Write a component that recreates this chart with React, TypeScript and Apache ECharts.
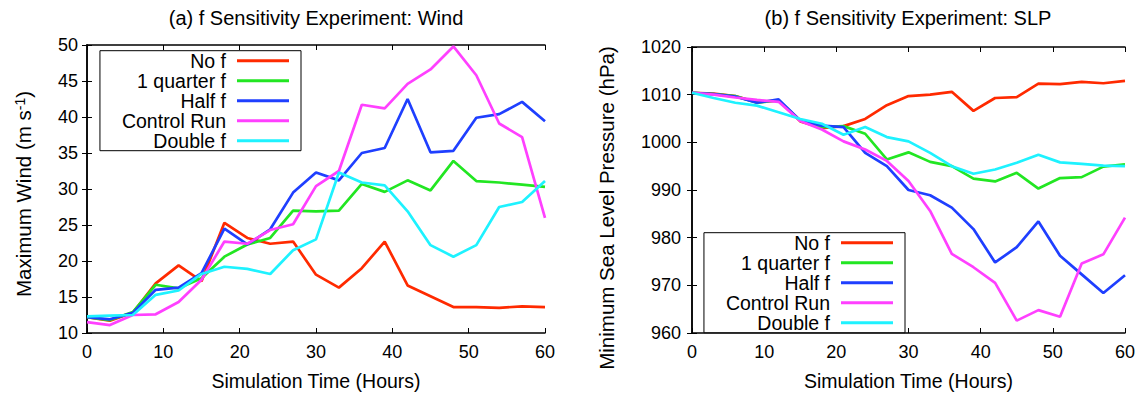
import React, { useEffect, useRef } from "react";
import * as echarts from "echarts";

const hours = [0, 3, 6, 9, 12, 15, 18, 21, 24, 27, 30, 33, 36, 39, 42, 45, 48, 51, 54, 57, 60];
const seriesNames = ["No f", "1 quarter f", "Half f", "Control Run", "Double f"];
const seriesColors = ["#ff2a00", "#22e622", "#1f3fff", "#ff40ff", "#1ef2ff"];

const noFWind = [12.2, 11.7, 12.8, 16.9, 19.4, 17.2, 25.3, 23.2, 22.4, 22.7, 18.1, 16.3, 19.0, 22.7, 16.6, 15.1, 13.6, 13.6, 13.5, 13.7, 13.6];
const quarterWind = [12.2, 11.8, 12.9, 16.7, 16.2, 17.6, 20.6, 22.3, 23.2, 27.0, 26.9, 27.0, 30.7, 29.6, 31.2, 29.8, 33.9, 31.1, 30.9, 30.6, 30.3];
const halfWind = [12.2, 11.9, 12.8, 16.0, 16.3, 18.3, 24.5, 22.3, 24.4, 29.5, 32.3, 31.2, 35.0, 35.7, 42.5, 35.1, 35.3, 39.9, 40.4, 42.1, 39.4];
const controlWind = [11.5, 11.1, 12.5, 12.6, 14.3, 17.4, 22.7, 22.4, 24.3, 25.1, 30.4, 32.5, 41.7, 41.2, 44.6, 46.6, 49.8, 45.8, 39.1, 37.2, 26.0];
const doubleWind = [12.3, 12.4, 12.5, 15.3, 15.9, 18.2, 19.2, 18.9, 18.2, 21.5, 23.0, 32.3, 30.9, 30.5, 26.9, 22.2, 20.6, 22.2, 27.5, 28.2, 31.1];

const noFSlp = [1010.4, 1010.2, 1009.7, 1008.4, 1008.8, 1004.4, 1003.0, 1003.4, 1004.9, 1007.8, 1009.7, 1010.0, 1010.6, 1006.6, 1009.3, 1009.5, 1012.3, 1012.2, 1012.7, 1012.4, 1012.9];
const quarterSlp = [1010.4, 1010.1, 1009.7, 1008.3, 1008.8, 1004.6, 1003.2, 1003.4, 1001.8, 996.4, 997.9, 995.9, 995.0, 992.4, 991.8, 993.6, 990.3, 992.5, 992.7, 994.9, 995.4];
const halfSlp = [1010.4, 1010.1, 1009.6, 1008.3, 1009.0, 1004.6, 1003.5, 1003.2, 997.8, 995.0, 990.0, 988.9, 986.3, 981.8, 974.8, 978.0, 983.4, 976.2, 972.3, 968.4, 972.1];
const controlSlp = [1010.4, 1010.0, 1009.4, 1008.9, 1008.5, 1004.5, 1002.7, 1000.2, 998.5, 996.1, 991.9, 985.6, 976.6, 973.8, 970.5, 962.6, 964.8, 963.4, 974.6, 976.5, 984.2];
const doubleSlp = [1010.4, 1009.3, 1008.3, 1007.7, 1006.3, 1004.9, 1003.9, 1001.6, 1003.2, 1001.1, 1000.2, 997.8, 995.0, 993.4, 994.3, 995.7, 997.4, 995.8, 995.5, 995.1, 995.0];

const windSets = [noFWind, quarterWind, halfWind, controlWind, doubleWind];
const slpSets = [noFSlp, quarterSlp, halfSlp, controlSlp, doubleSlp];

const FONT = "'Liberation Sans', Arial, Helvetica, sans-serif";

function xAxes(gridIndex: number) {
  const base = {
    type: "value" as const,
    gridIndex,
    min: 0,
    max: 60,
    interval: 10,
    splitLine: { show: false },
    axisLine: { show: true, lineStyle: { color: "#000", width: 1.5 } },
    axisTick: { show: true, inside: true, length: 5, lineStyle: { color: "#000", width: 1 } },
  };
  return [
    {
      ...base,
      position: "bottom",
      name: "Simulation Time (Hours)",
      nameLocation: "middle",
      nameGap: 38,
      nameTextStyle: { fontFamily: FONT, fontSize: 19.5, color: "#000" },
      axisLabel: { fontFamily: FONT, fontSize: 18, color: "#000", margin: 10 },
    },
    { ...base, position: "top", axisLabel: { show: false } },
  ];
}

function yAxes(gridIndex: number, min: number, max: number, interval: number, name: string, nameGap: number, margin: number, namePad: number[], rich: any) {
  const base = {
    type: "value" as const,
    gridIndex,
    min,
    max,
    interval,
    splitLine: { show: false },
    axisLine: { show: true, lineStyle: { color: "#000", width: 1.5 } },
    axisTick: { show: true, inside: true, length: 5, lineStyle: { color: "#000", width: 1 } },
  };
  return [
    {
      ...base,
      position: "left",
      name,
      nameLocation: "middle",
      nameGap,
      nameTextStyle: { fontFamily: FONT, fontSize: 20.5, color: "#000", padding: namePad, rich },
      axisLabel: { fontFamily: FONT, fontSize: 18, color: "#000", margin, formatter: (v: number) => String(v) },
    },
    { ...base, position: "right", axisLabel: { show: false } },
  ];
}

function legend(right: number, top: number) {
  return {
    orient: "vertical",
    right,
    top,
    align: "right",
    icon: "rect",
    itemWidth: 52,
    itemHeight: 3,
    itemGap: 0,
    padding: [0, 12, 0, 22],
    borderColor: "#000",
    borderWidth: 1,
    backgroundColor: "#fff",
    selectedMode: false,
    textStyle: { fontFamily: FONT, fontSize: 19.5, color: "#000", lineHeight: 19.2, padding: [0, 6, 0, 0] },
    data: seriesNames,
  };
}

export default function App() {
  const ref = useRef<HTMLDivElement>(null);
  useEffect(() => {
    if (!ref.current) return;
    const chart = echarts.init(ref.current, null, { renderer: "svg" });
    const series: any[] = [];
    seriesNames.forEach((name, i) => {
      series.push({
        type: "line",
        name,
        xAxisIndex: 0,
        yAxisIndex: 0,
        data: hours.map((h, j) => [h, windSets[i][j]]),
        symbol: "none",
        lineStyle: { color: seriesColors[i], width: 2.7 },
        itemStyle: { color: seriesColors[i] },
      });
    });
    seriesNames.forEach((name, i) => {
      series.push({
        type: "line",
        name,
        xAxisIndex: 2,
        yAxisIndex: 2,
        data: hours.map((h, j) => [h, slpSets[i][j]]),
        symbol: "none",
        lineStyle: { color: seriesColors[i], width: 2.7 },
        itemStyle: { color: seriesColors[i] },
      });
    });
    chart.setOption({
      animation: false,
      backgroundColor: "#fff",
      title: [
        {
          text: "(a) f Sensitivity Experiment: Wind",
          left: 316,
          top: 8,
          textAlign: "center",
          padding: 0,
          textStyle: { fontFamily: FONT, fontSize: 20, fontWeight: "normal", color: "#000" },
        },
        {
          text: "(b) f Sensitivity Experiment: SLP",
          left: 908,
          top: 8,
          textAlign: "center",
          padding: 0,
          textStyle: { fontFamily: FONT, fontSize: 20, fontWeight: "normal", color: "#000" },
        },
      ],
      grid: [
        { left: 87, right: 599, top: 45, bottom: 62 },
        { left: 692, right: 19, top: 47, bottom: 62 },
      ],
      xAxis: [...xAxes(0), ...xAxes(1)],
      yAxis: [
        ...yAxes(0, 10, 50, 5, "Maximum Wind (m s{sup|-1})", 53, 9, [0, 10, 0, 0], {
          sup: { fontFamily: FONT, fontSize: 14, verticalAlign: "top", color: "#000" },
        }),
        ...yAxes(1, 960, 1020, 10, "Minimum Sea Level Pressure (hPa)", 75, 11, [0, 36, 0, 0], undefined),
      ],
      legend: [legend(843, 50.7), legend(239, 232.7)],
      series,
    });
    return () => chart.dispose();
  }, []);
  return <div ref={ref} style={{ position: "absolute", left: 0, top: 0, width: 1144, height: 396 }} />;
}
